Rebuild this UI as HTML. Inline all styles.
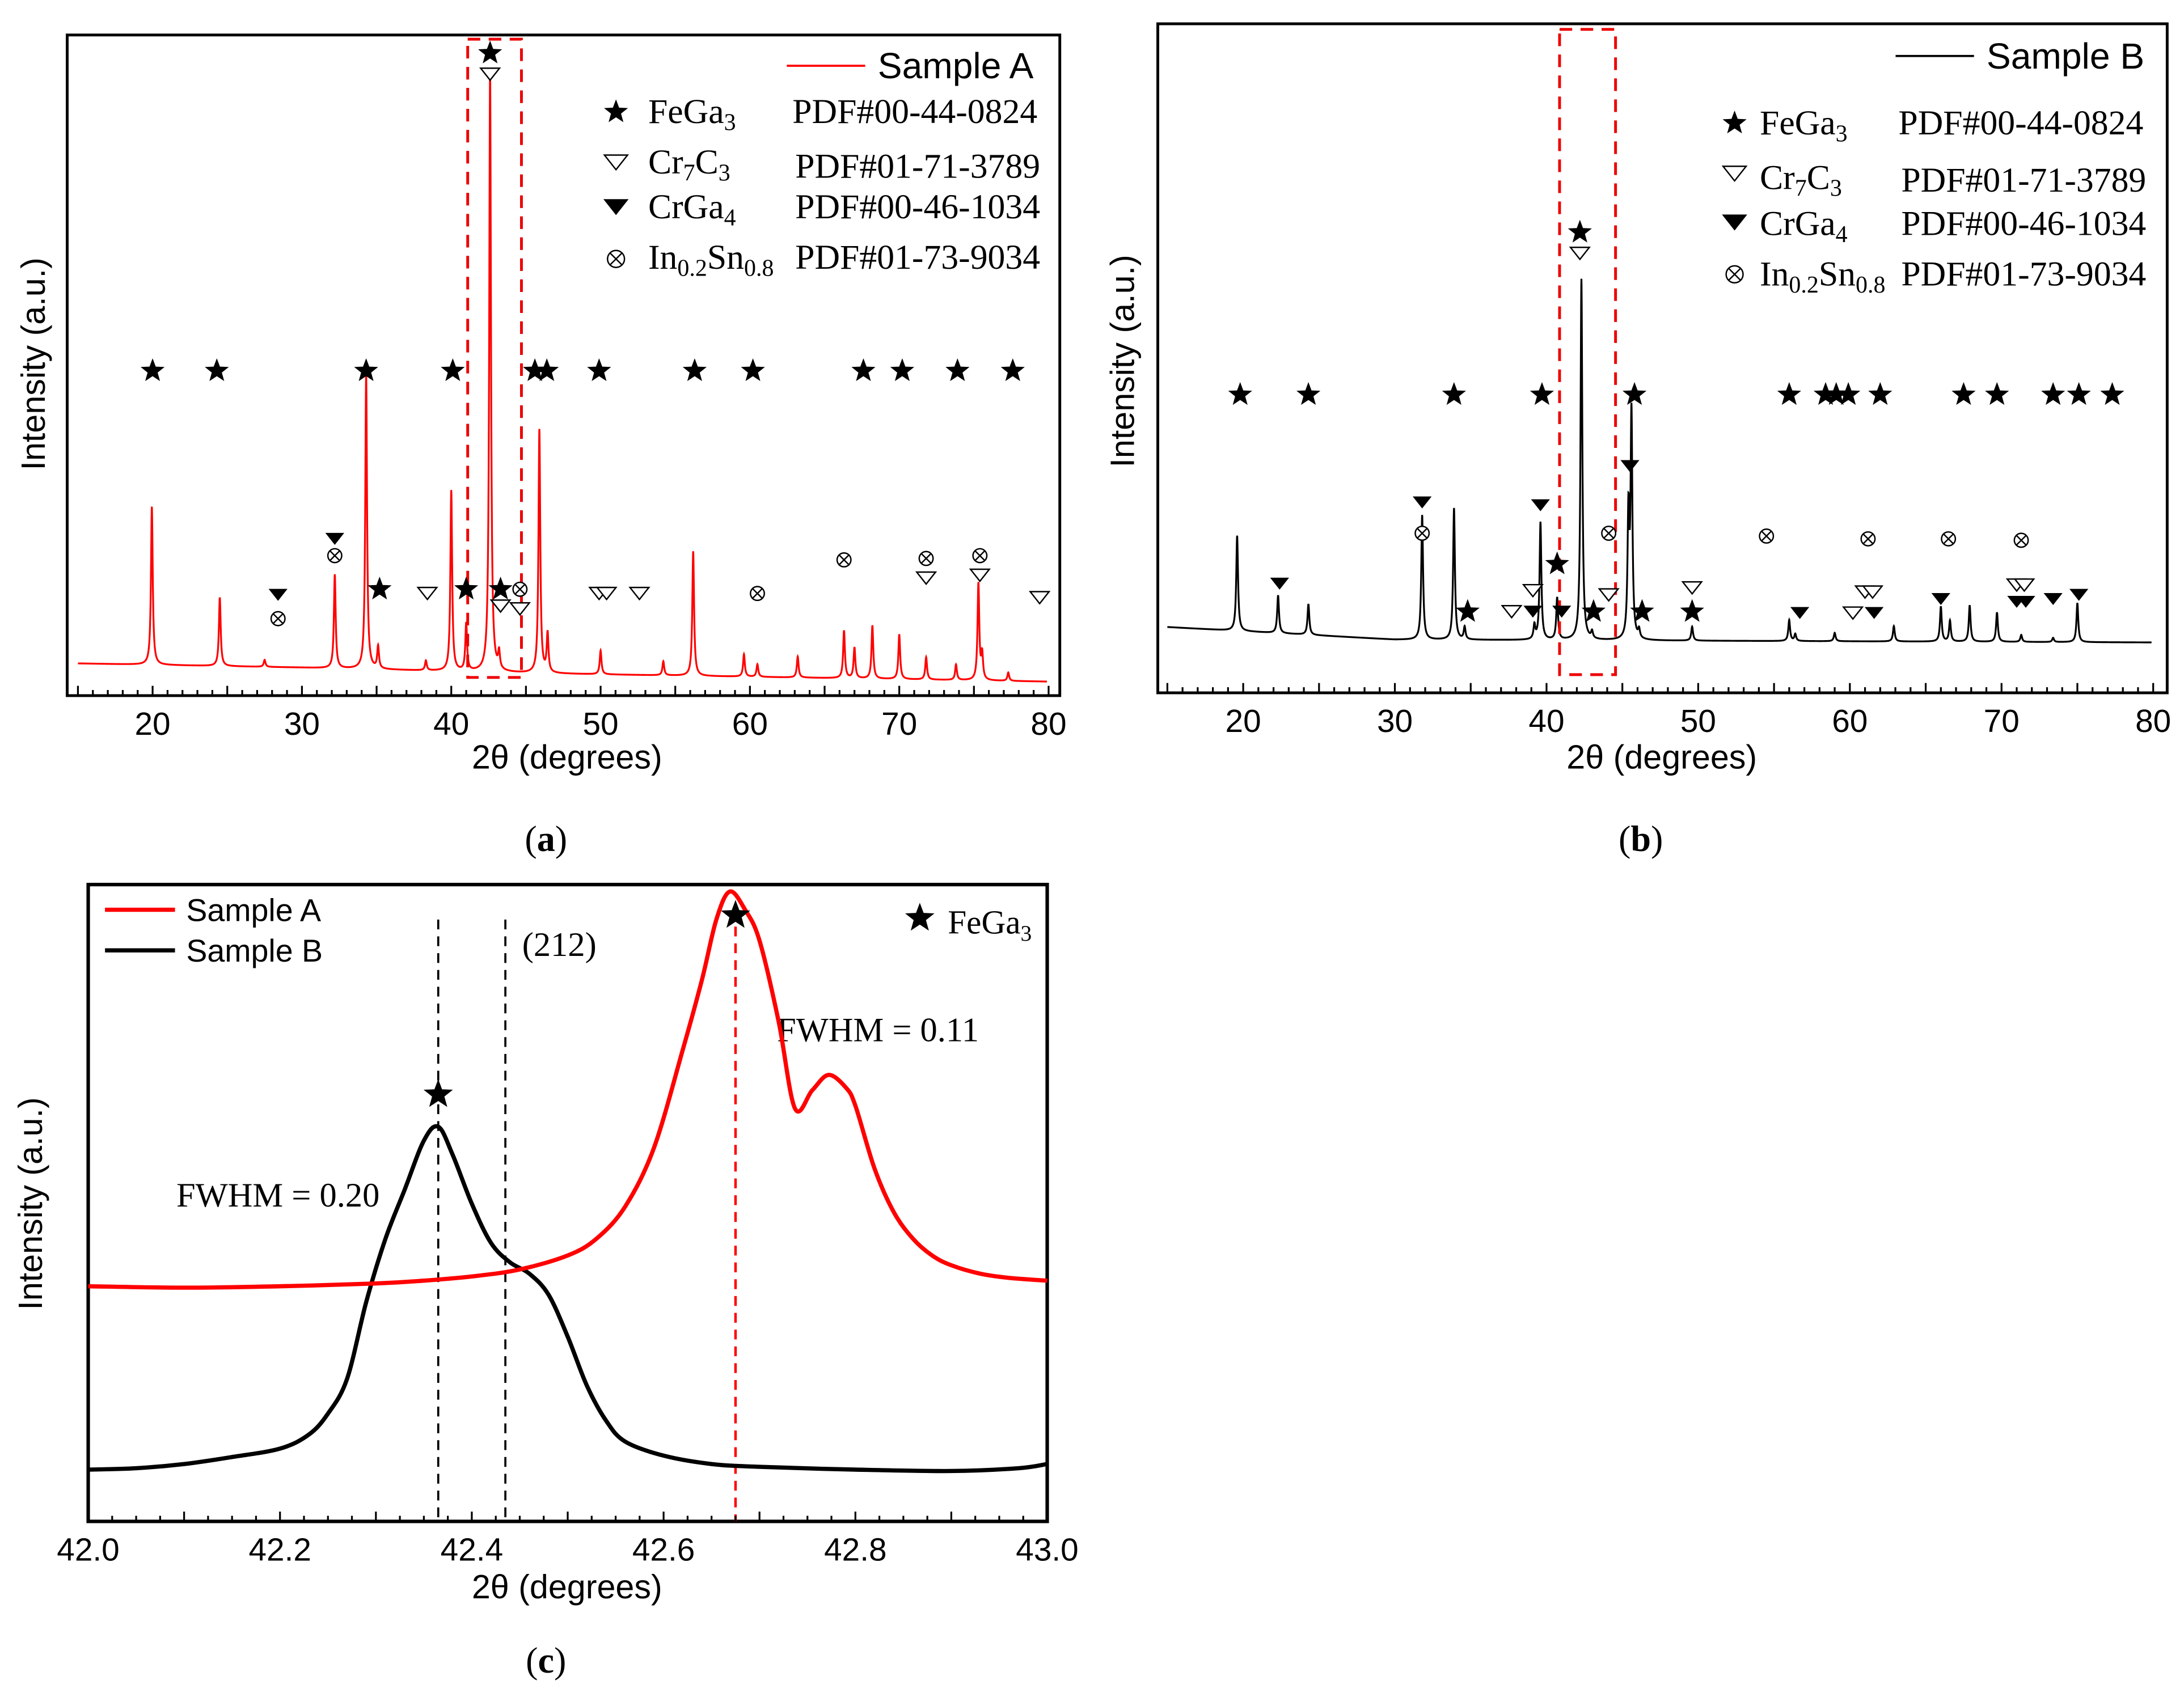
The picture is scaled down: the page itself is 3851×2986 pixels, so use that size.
<!DOCTYPE html>
<html><head><meta charset="utf-8"><style>
html,body{margin:0;padding:0;background:#fff;}
svg{display:block;}
.sans{font-family:"Liberation Sans",Arial,sans-serif;}
.serif{font-family:"Liberation Serif","Times New Roman",serif;}
</style></head><body>
<svg id="fig" xmlns="http://www.w3.org/2000/svg" width="3851" height="2986" viewBox="0 0 1560 1209.6">
<rect x="0" y="0" width="1560" height="1210" fill="#fff"/>
<g id="pa">
<rect x="48" y="25" width="709" height="472" fill="none" stroke="#000" stroke-width="2"/>
<text class="sans" x="32" y="260" font-size="24" text-anchor="middle" transform="rotate(-90 32 260)">Intensity (a.u.)</text>
<text class="sans" x="405" y="549" font-size="24" text-anchor="middle">2θ (degrees)</text>
<line x1="562" y1="47" x2="618" y2="47" stroke="#f00" stroke-width="1.5"/>
<text class="sans" x="627" y="56" font-size="26">Sample A</text>
<g class="serif" font-size="25">
<text x="463" y="88">FeGa<tspan font-size="17" dy="5">3</tspan></text>
<text x="566" y="88">PDF#00-44-0824</text>
<text x="463" y="124">Cr<tspan font-size="17" dy="5">7</tspan><tspan dy="-5">C</tspan><tspan font-size="17" dy="5">3</tspan></text>
<text x="568" y="127">PDF#01-71-3789</text>
<text x="463" y="156">CrGa<tspan font-size="17" dy="5">4</tspan></text>
<text x="568" y="156">PDF#00-46-1034</text>
<text x="463" y="192">In<tspan font-size="17" dy="5">0.2</tspan><tspan dy="-5">Sn</tspan><tspan font-size="17" dy="5">0.8</tspan></text>
<text x="568" y="192">PDF#01-73-9034</text>
</g>
</g>
<g id="pb">
<rect x="827" y="17" width="721" height="478" fill="none" stroke="#000" stroke-width="2"/>
<text class="sans" x="810" y="258" font-size="24" text-anchor="middle" transform="rotate(-90 810 258)">Intensity (a.u.)</text>
<text class="sans" x="1187" y="549" font-size="24" text-anchor="middle">2θ (degrees)</text>
<line x1="1354" y1="40" x2="1410" y2="40" stroke="#000" stroke-width="1.5"/>
<text class="sans" x="1419" y="49" font-size="26">Sample B</text>
<g class="serif" font-size="25">
<text x="1257" y="96">FeGa<tspan font-size="17" dy="5">3</tspan></text>
<text x="1356" y="96">PDF#00-44-0824</text>
<text x="1257" y="135">Cr<tspan font-size="17" dy="5">7</tspan><tspan dy="-5">C</tspan><tspan font-size="17" dy="5">3</tspan></text>
<text x="1358" y="137">PDF#01-71-3789</text>
<text x="1257" y="168">CrGa<tspan font-size="17" dy="5">4</tspan></text>
<text x="1358" y="168">PDF#00-46-1034</text>
<text x="1257" y="204">In<tspan font-size="17" dy="5">0.2</tspan><tspan dy="-5">Sn</tspan><tspan font-size="17" dy="5">0.8</tspan></text>
<text x="1358" y="204">PDF#01-73-9034</text>
</g>
</g>
<g id="pc">
<rect x="63" y="632" width="685" height="455" fill="none" stroke="#000" stroke-width="2.5"/>
<text class="sans" x="30" y="860" font-size="24" text-anchor="middle" transform="rotate(-90 30 860)">Intensity (a.u.)</text>
<text class="sans" x="405" y="1142" font-size="24" text-anchor="middle">2θ (degrees)</text>
<line x1="75" y1="650" x2="125" y2="650" stroke="#f00" stroke-width="3"/>
<text class="sans" x="133" y="658" font-size="22.5">Sample A</text>
<line x1="75" y1="679" x2="125" y2="679" stroke="#000" stroke-width="3"/>
<text class="sans" x="133" y="687" font-size="22.5">Sample B</text>
<text class="serif" x="677" y="667" font-size="24">FeGa<tspan font-size="16" dy="5">3</tspan></text>
<text class="serif" x="373" y="683" font-size="24.5">(212)</text>
<text class="serif" x="555" y="744" font-size="24.5">FWHM = 0.11</text>
<text class="serif" x="126" y="862" font-size="24.5">FWHM = 0.20</text>
</g>
<text class="serif" x="390" y="608" font-size="26" text-anchor="middle">(<tspan font-weight="bold">a</tspan>)</text>
<text class="serif" x="1172" y="608" font-size="26" text-anchor="middle">(<tspan font-weight="bold">b</tspan>)</text>
<text class="serif" x="390" y="1195" font-size="26" text-anchor="middle">(<tspan font-weight="bold">c</tspan>)</text>
</svg>
<script>
// ===== Panel A data =====
const peakPosA = [19.95,24.5,27.5,32.2,34.3,35.1,38.3,40.0,41.0,42.6,43.2,45.9,46.45,50.0,54.2,56.2,59.6,60.5,63.2,66.3,67.0,68.2,70.0,71.8,73.8,75.3,75.55,77.3];
const peakHtA  = [113,49,5,67,210,16,7,129,34,430,12,174,28,17,10,89,16,9,15,34,22,38,32,16,11,69,18,6];
const baseXA = [15,30,45,80];
const baseYA = [23,20,16,10];
// ===== Panel B data =====
const peakPosB = [19.6,22.3,24.3,31.8,33.9,34.6,39.2,39.6,40.7,42.3,43.0,45.4,45.6,46.1,49.6,56.0,56.4,59.0,62.9,66.0,66.6,67.9,69.7,71.3,73.4,75.0];
const peakHtB  = [68,27,22,89,94,9,10,84,30,258,5,88,160,6,10,15,5,6,11,25,15,26,21,5,3,28];
const baseXB = [15,30,80];
const baseYB = [47,38,36];
const xTicksAB = [20,30,40,50,60,70,80];
const markPhaseA = ['star','star','star','star','star','star','star','star','star','star','star','star','star',
 'star','tri-open','tri','ox','tri','ox','star','tri-open','star','star','tri-open','ox','tri-open','tri-open','tri-open','tri-open','ox','ox','tri-open','ox','tri-open','ox','tri-open'];
const markXA = [20,24.3,34.3,40.1,45.6,46.4,49.9,56.3,60.2,67.6,70.2,73.9,77.6,
 42.6,42.6,28.4,28.4,32.2,32.2,35.2,38.4,41.0,43.3,43.3,44.6,44.6,49.9,50.4,52.6,60.5,66.3,71.8,71.8,75.4,75.4,79.4];
const markLvA = [232,232,232,232,232,232,232,232,232,232,232,232,232,
 459,444,72,55,112,100,76,73,76,76,64,76,62,73,73,73,73,97,84,98,86,100,70];
const markPhaseB = ['star','star','star','star','star','star','star','star','star','star','star','star','star','star','star',
 'star','tri-open','tri','ox','tri','star','tri-open','tri-open','tri','tri','star','tri','star','tri-open','ox','tri','star','star','tri-open','ox','tri','tri-open','tri-open','tri-open','tri','ox','ox','tri','tri-open','tri-open','tri','tri','ox','tri','tri'];
const markXB = [19.8,24.3,33.9,39.7,45.8,56.0,58.4,59.1,59.9,62.0,67.5,69.7,73.4,75.1,77.3,
 42.2,42.2,31.8,31.8,22.4,34.8,37.7,39.1,39.1,39.6,40.7,41.0,43.1,44.1,44.1,45.5,46.3,49.6,49.6,54.5,56.7,60.2,61.0,61.5,61.6,61.2,66.5,66.0,71.0,71.5,71.0,71.6,71.3,73.4,75.1];
const markLvB = [213,213,213,213,213,213,213,213,213,213,213,213,213,213,213,
 329,314,136,114,78,58,58,73,58,134,92,58,58,70,114,162,58,58,75,112,57,57,72,72,57,110,110,67,77,77,65,65,109,67,70];
// ===== Panel C data =====
const cAx = [42.00,42.10,42.20,42.30,42.35,42.40,42.45,42.50,42.53,42.56,42.59,42.62,42.64,42.655,42.669,42.685,42.70,42.72,42.737,42.755,42.772,42.79,42.80,42.82,42.84,42.86,42.88,42.90,42.93,42.96,43.00];
const cAy = [168,167,168,170,172,175,180,190,202,225,267,337,387,430,450,437,415,357,295,308,319,310,297,252,221,202,190,183,177,174,172];
const cBx = [42.00,42.05,42.10,42.15,42.20,42.23,42.25,42.27,42.29,42.31,42.33,42.35,42.365,42.38,42.40,42.42,42.44,42.46,42.48,42.50,42.52,42.54,42.56,42.60,42.65,42.70,42.80,42.90,42.97,43.00];
const cBy = [37,38,41,46,52,62,77,102,157,202,237,272,282,262,227,199,185,177,162,132,97,72,57,47,41,39,37,36,38,41];
const xTicksC = [42.0,42.2,42.4,42.6,42.8,43.0];
const tickLabC = ['42.0','42.2','42.4','42.6','42.8','43.0'];
const refLinesC = [42.365,42.435];
const refLineRedC = 42.675;
const starCx = [42.365,42.675];
const starCv = [305,433];

const NS='http://www.w3.org/2000/svg';
const svg=document.getElementById('fig');
function mk(tag,parent){const e=document.createElementNS(NS,tag);parent.appendChild(e);return e;}
const xa=x=>109+(x-20)*640/60, ya=v=>497-v;
const xb=x=>888+(x-20)*650/60, yb=v=>495-v;
const xc=x=>63+(x-42)*685, yc=v=>1087-v;
function interp(xs,ys,x){if(x<=xs[0])return ys[0];for(let i=1;i<xs.length;i++){if(x<=xs[i]){const t=(x-xs[i-1])/(xs[i]-xs[i-1]);return ys[i-1]+t*(ys[i]-ys[i-1]);}}return ys[ys.length-1];}
function spectrum(pos,ht,bx,by,x){let v=interp(bx,by,x);const w=0.07;for(let i=0;i<pos.length;i++){const d=(x-pos[i])/w;v+=ht[i]/(1+d*d);}return v;}
function drawSpectrum(pos,ht,bx,by,sx,sy,x0,x1,color,name){
  let d='';for(let x=x0;x<=x1;x+=0.01){d+=(d?'L':'M')+sx(x).toFixed(2)+' '+sy(spectrum(pos,ht,bx,by,x)).toFixed(2);}
  const p=mk('path',svg);p.setAttribute('d',d);p.setAttribute('fill','none');p.setAttribute('stroke',color);p.setAttribute('stroke-width','1.3');
  
  
}
function ticks(sx,yBase,x0,x1,step,majorEvery,labels,labelVals,name,fs){
  const g=mk('g',svg);
  
  
  const n=Math.round((x1-x0)/step);
  for(let i=0;i<=n;i++){const x=x0+i*step;const maj=(i%majorEvery===0);const l=mk('line',g);
    l.setAttribute('x1',sx(x));l.setAttribute('x2',sx(x));l.setAttribute('y1',yBase);l.setAttribute('y2',yBase-(maj?7:4));l.setAttribute('stroke','#000');l.setAttribute('stroke-width','1.3');}
  for(let i=0;i<labelVals.length;i++){const t=mk('text',g);t.setAttribute('x',sx(labelVals[i]));t.setAttribute('y',yBase+28);t.setAttribute('text-anchor','middle');t.setAttribute('class','sans');t.setAttribute('font-size',fs);t.textContent=labels[i];
    
    }
}
function starPts(cx,cy,r){let s='';for(let i=0;i<10;i++){const a=-Math.PI/2+i*Math.PI/5;const rr=i%2?r*0.42:r;s+=(cx+rr*Math.cos(a)).toFixed(2)+','+(cy+rr*Math.sin(a)).toFixed(2)+' ';}return s;}
function marker(type,cx,cy,s){
  let e;
  if(type==='star'){e=mk('polygon',svg);e.setAttribute('points',starPts(cx,cy,s));e.setAttribute('fill','#000');}
  else if(type==='tri'||type==='tri-open'){e=mk('polygon',svg);const h=s*0.95,w=s*0.75;e.setAttribute('points',(cx-w)+','+(cy-h/2)+' '+(cx+w)+','+(cy-h/2)+' '+cx+','+(cy+h/2));
    if(type==='tri'){e.setAttribute('fill','#000');}else{e.setAttribute('fill','#fff');e.setAttribute('stroke','#000');e.setAttribute('stroke-width','1');}}
  else {e=mk('g',svg);const r=s*0.55;const c=mk('circle',e);c.setAttribute('cx',cx);c.setAttribute('cy',cy);c.setAttribute('r',r);c.setAttribute('fill','#fff');c.setAttribute('stroke','#000');c.setAttribute('stroke-width','1');
    const k=r*0.7;const l1=mk('path',e);l1.setAttribute('d','M'+(cx-k)+' '+(cy-k)+'L'+(cx+k)+' '+(cy+k)+'M'+(cx+k)+' '+(cy-k)+'L'+(cx-k)+' '+(cy+k));l1.setAttribute('stroke','#000');l1.setAttribute('stroke-width','1');}
  
  
  return e;
}
function dashedBox(x0,x1,y0,y1,name){const r=mk('rect',svg);r.setAttribute('x',x0);r.setAttribute('y',y0);r.setAttribute('width',x1-x0);r.setAttribute('height',y1-y0);r.setAttribute('fill','none');r.setAttribute('stroke','#e00');r.setAttribute('stroke-width','2');r.setAttribute('stroke-dasharray','9,6');
  
  }

drawSpectrum(peakPosA,peakHtA,baseXA,baseYA,xa,ya,15,79.9,'#f00','sample-a-pattern');
dashedBox(xa(41.1),xa(44.7),28,484,'panel-a-zoom-box');
ticks(xa,497,15,80,1,5,xTicksAB.map(String),xTicksAB,'panel-a-x-axis',23);
for(let i=0;i<markXA.length;i++){marker(markPhaseA[i],xa(markXA[i]),ya(markLvA[i]),9);}
marker('star',440,80,9);marker('tri-open',440,116,11);marker('tri',440,148,12);marker('ox',440,185,11);

drawSpectrum(peakPosB,peakHtB,baseXB,baseYB,xb,yb,15,79.9,'#000','sample-b-pattern');
dashedBox(xb(40.86),xb(44.55),21,482,'panel-b-zoom-box');
ticks(xb,495,15,80,1,5,xTicksAB.map(String),xTicksAB,'panel-b-x-axis',23);
for(let i=0;i<markXB.length;i++){marker(markPhaseB[i],xb(markXB[i]),yb(markLvB[i]),9);}
marker('star',1239,88,9);marker('tri-open',1239,124,11);marker('tri',1239,159,12);marker('ox',1239,196,11);

function smoothPath(xs,ys,sx,sy){const P=xs.map((x,i)=>[sx(x),sy(ys[i])]);let d='M'+P[0][0]+' '+P[0][1];
  for(let i=0;i<P.length-1;i++){const p0=P[Math.max(0,i-1)],p1=P[i],p2=P[i+1],p3=P[Math.min(P.length-1,i+2)];
    const c1=[p1[0]+(p2[0]-p0[0])/6,p1[1]+(p2[1]-p0[1])/6],c2=[p2[0]-(p3[0]-p1[0])/6,p2[1]-(p3[1]-p1[1])/6];
    d+='C'+c1[0].toFixed(2)+' '+c1[1].toFixed(2)+' '+c2[0].toFixed(2)+' '+c2[1].toFixed(2)+' '+p2[0].toFixed(2)+' '+p2[1].toFixed(2);}return d;}
for(const v of refLinesC){const l=mk('line',svg);l.setAttribute('x1',xc(v));l.setAttribute('x2',xc(v));l.setAttribute('y1',657);l.setAttribute('y2',1087);l.setAttribute('stroke','#000');l.setAttribute('stroke-width','1.5');l.setAttribute('stroke-dasharray','7,5');
  
  }
{const l=mk('line',svg);l.setAttribute('x1',xc(refLineRedC));l.setAttribute('x2',xc(refLineRedC));l.setAttribute('y1',650);l.setAttribute('y2',1087);l.setAttribute('stroke','#f00');l.setAttribute('stroke-width','1.8');l.setAttribute('stroke-dasharray','7,5');
  
  }
{const p=mk('path',svg);p.setAttribute('d',smoothPath(cBx,cBy,xc,yc));p.setAttribute('fill','none');p.setAttribute('stroke','#000');p.setAttribute('stroke-width','3');
  
  }
{const p=mk('path',svg);p.setAttribute('d',smoothPath(cAx,cAy,xc,yc));p.setAttribute('fill','none');p.setAttribute('stroke','#f00');p.setAttribute('stroke-width','3');
  
  }
for(let i=0;i<starCx.length;i++){marker('star',xc(starCx[i]),yc(starCv[i]),11);}
marker('star',657,656,11);
ticks(xc,1087,42,43,0.025,4,tickLabC,xTicksC,'panel-c-x-axis',23);
</script>
</body></html>
